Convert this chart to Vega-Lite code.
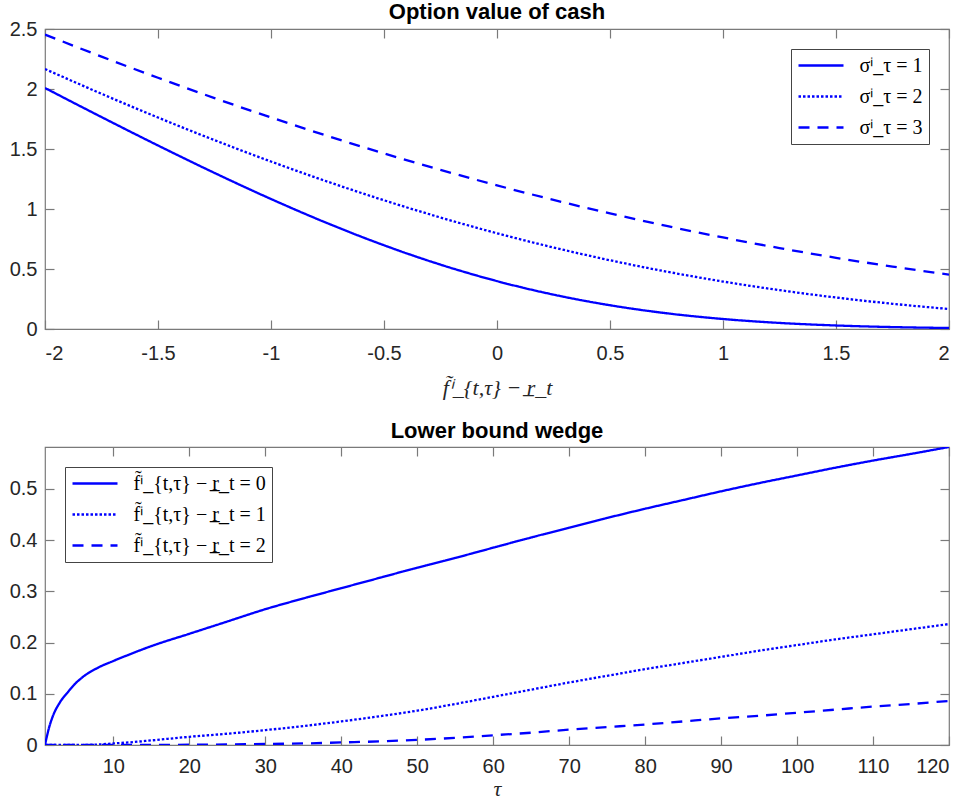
{
  "$schema": "https://vega.github.io/schema/vega-lite/v6.json",
  "padding": {"left": 8, "top": 0, "right": 17, "bottom": 0},
  "background": "white",
  "spacing": 20,
  "datasets": {
    "top": [
      {"x": -2, "v": 2.0084, "s": "σⁱ_τ = 1"}, {"x": -1.75, "v": 1.7661, "s": "σⁱ_τ = 1"}, {"x": -1.5, "v": 1.5293, "s": "σⁱ_τ = 1"}, {"x": -1.25, "v": 1.3006, "s": "σⁱ_τ = 1"},
      {"x": -1, "v": 1.0833, "s": "σⁱ_τ = 1"}, {"x": -0.75, "v": 0.8812, "s": "σⁱ_τ = 1"}, {"x": -0.5, "v": 0.6978, "s": "σⁱ_τ = 1"}, {"x": -0.25, "v": 0.5364, "s": "σⁱ_τ = 1"},
      {"x": 0, "v": 0.3989, "s": "σⁱ_τ = 1"}, {"x": 0.25, "v": 0.2864, "s": "σⁱ_τ = 1"}, {"x": 0.5, "v": 0.1979, "s": "σⁱ_τ = 1"}, {"x": 0.75, "v": 0.1312, "s": "σⁱ_τ = 1"},
      {"x": 1, "v": 0.0833, "s": "σⁱ_τ = 1"}, {"x": 1.25, "v": 0.0506, "s": "σⁱ_τ = 1"}, {"x": 1.5, "v": 0.0293, "s": "σⁱ_τ = 1"}, {"x": 1.75, "v": 0.0161, "s": "σⁱ_τ = 1"},
      {"x": 2, "v": 0.0084, "s": "σⁱ_τ = 1"},
      {"x": -2, "v": 2.1665, "s": "σⁱ_τ = 2"}, {"x": -1.75, "v": 1.9602, "s": "σⁱ_τ = 2"}, {"x": -1.5, "v": 1.7623, "s": "σⁱ_τ = 2"}, {"x": -1.25, "v": 1.5738, "s": "σⁱ_τ = 2"},
      {"x": -1, "v": 1.3956, "s": "σⁱ_τ = 2"}, {"x": -0.75, "v": 1.2283, "s": "σⁱ_τ = 2"}, {"x": -0.5, "v": 1.0727, "s": "σⁱ_τ = 2"}, {"x": -0.25, "v": 0.9291, "s": "σⁱ_τ = 2"},
      {"x": 0, "v": 0.7979, "s": "σⁱ_τ = 2"}, {"x": 0.25, "v": 0.6791, "s": "σⁱ_τ = 2"}, {"x": 0.5, "v": 0.5727, "s": "σⁱ_τ = 2"}, {"x": 0.75, "v": 0.4783, "s": "σⁱ_τ = 2"},
      {"x": 1, "v": 0.3956, "s": "σⁱ_τ = 2"}, {"x": 1.25, "v": 0.3238, "s": "σⁱ_τ = 2"}, {"x": 1.5, "v": 0.2623, "s": "σⁱ_τ = 2"}, {"x": 1.75, "v": 0.2102, "s": "σⁱ_τ = 2"},
      {"x": 2, "v": 0.1666, "s": "σⁱ_τ = 2"},
      {"x": -2, "v": 2.4534, "s": "σⁱ_τ = 3"}, {"x": -1.75, "v": 2.2699, "s": "σⁱ_τ = 3"}, {"x": -1.5, "v": 2.0934, "s": "σⁱ_τ = 3"}, {"x": -1.25, "v": 1.9242, "s": "σⁱ_τ = 3"},
      {"x": -1, "v": 1.7627, "s": "σⁱ_τ = 3"}, {"x": -0.75, "v": 1.609, "s": "σⁱ_τ = 3"}, {"x": -0.5, "v": 1.4634, "s": "σⁱ_τ = 3"}, {"x": -0.25, "v": 1.326, "s": "σⁱ_τ = 3"},
      {"x": 0, "v": 1.1968, "s": "σⁱ_τ = 3"}, {"x": 0.25, "v": 1.076, "s": "σⁱ_τ = 3"}, {"x": 0.5, "v": 0.9634, "s": "σⁱ_τ = 3"}, {"x": 0.75, "v": 0.859, "s": "σⁱ_τ = 3"},
      {"x": 1, "v": 0.7627, "s": "σⁱ_τ = 3"}, {"x": 1.25, "v": 0.6742, "s": "σⁱ_τ = 3"}, {"x": 1.5, "v": 0.5934, "s": "σⁱ_τ = 3"}, {"x": 1.75, "v": 0.5199, "s": "σⁱ_τ = 3"},
      {"x": 2, "v": 0.4534, "s": "σⁱ_τ = 3"}
    ],
    "bottom": [
      {"t": 1, "v": 0, "g": "f̃ⁱ_{t,τ} − r̲_t = 0"}, {"t": 1.5, "v": 0.032, "g": "f̃ⁱ_{t,τ} − r̲_t = 0"}, {"t": 2, "v": 0.055, "g": "f̃ⁱ_{t,τ} − r̲_t = 0"}, {"t": 3, "v": 0.084, "g": "f̃ⁱ_{t,τ} − r̲_t = 0"},
      {"t": 4, "v": 0.103, "g": "f̃ⁱ_{t,τ} − r̲_t = 0"}, {"t": 5, "v": 0.12, "g": "f̃ⁱ_{t,τ} − r̲_t = 0"}, {"t": 6, "v": 0.133, "g": "f̃ⁱ_{t,τ} − r̲_t = 0"}, {"t": 8, "v": 0.151, "g": "f̃ⁱ_{t,τ} − r̲_t = 0"},
      {"t": 10, "v": 0.164, "g": "f̃ⁱ_{t,τ} − r̲_t = 0"}, {"t": 12, "v": 0.176, "g": "f̃ⁱ_{t,τ} − r̲_t = 0"}, {"t": 15, "v": 0.193, "g": "f̃ⁱ_{t,τ} − r̲_t = 0"}, {"t": 20, "v": 0.217, "g": "f̃ⁱ_{t,τ} − r̲_t = 0"},
      {"t": 25, "v": 0.241, "g": "f̃ⁱ_{t,τ} − r̲_t = 0"}, {"t": 30, "v": 0.265, "g": "f̃ⁱ_{t,τ} − r̲_t = 0"}, {"t": 35, "v": 0.286, "g": "f̃ⁱ_{t,τ} − r̲_t = 0"}, {"t": 40, "v": 0.306, "g": "f̃ⁱ_{t,τ} − r̲_t = 0"},
      {"t": 45, "v": 0.326, "g": "f̃ⁱ_{t,τ} − r̲_t = 0"}, {"t": 50, "v": 0.346, "g": "f̃ⁱ_{t,τ} − r̲_t = 0"}, {"t": 55, "v": 0.365, "g": "f̃ⁱ_{t,τ} − r̲_t = 0"}, {"t": 60, "v": 0.385, "g": "f̃ⁱ_{t,τ} − r̲_t = 0"},
      {"t": 65, "v": 0.405, "g": "f̃ⁱ_{t,τ} − r̲_t = 0"}, {"t": 70, "v": 0.424, "g": "f̃ⁱ_{t,τ} − r̲_t = 0"}, {"t": 75, "v": 0.443, "g": "f̃ⁱ_{t,τ} − r̲_t = 0"}, {"t": 80, "v": 0.461, "g": "f̃ⁱ_{t,τ} − r̲_t = 0"},
      {"t": 85, "v": 0.478, "g": "f̃ⁱ_{t,τ} − r̲_t = 0"}, {"t": 90, "v": 0.495, "g": "f̃ⁱ_{t,τ} − r̲_t = 0"}, {"t": 95, "v": 0.511, "g": "f̃ⁱ_{t,τ} − r̲_t = 0"}, {"t": 100, "v": 0.526, "g": "f̃ⁱ_{t,τ} − r̲_t = 0"},
      {"t": 105, "v": 0.541, "g": "f̃ⁱ_{t,τ} − r̲_t = 0"}, {"t": 110, "v": 0.555, "g": "f̃ⁱ_{t,τ} − r̲_t = 0"}, {"t": 115, "v": 0.568, "g": "f̃ⁱ_{t,τ} − r̲_t = 0"}, {"t": 120, "v": 0.5815, "g": "f̃ⁱ_{t,τ} − r̲_t = 0"},
      {"t": 1, "v": 0, "g": "f̃ⁱ_{t,τ} − r̲_t = 1"}, {"t": 5, "v": 0, "g": "f̃ⁱ_{t,τ} − r̲_t = 1"}, {"t": 8, "v": 0.001, "g": "f̃ⁱ_{t,τ} − r̲_t = 1"}, {"t": 10, "v": 0.003, "g": "f̃ⁱ_{t,τ} − r̲_t = 1"},
      {"t": 12, "v": 0.005, "g": "f̃ⁱ_{t,τ} − r̲_t = 1"}, {"t": 15, "v": 0.009, "g": "f̃ⁱ_{t,τ} − r̲_t = 1"}, {"t": 20, "v": 0.016, "g": "f̃ⁱ_{t,τ} − r̲_t = 1"}, {"t": 25, "v": 0.022, "g": "f̃ⁱ_{t,τ} − r̲_t = 1"},
      {"t": 30, "v": 0.029, "g": "f̃ⁱ_{t,τ} − r̲_t = 1"}, {"t": 35, "v": 0.037, "g": "f̃ⁱ_{t,τ} − r̲_t = 1"}, {"t": 40, "v": 0.046, "g": "f̃ⁱ_{t,τ} − r̲_t = 1"}, {"t": 45, "v": 0.056, "g": "f̃ⁱ_{t,τ} − r̲_t = 1"},
      {"t": 50, "v": 0.067, "g": "f̃ⁱ_{t,τ} − r̲_t = 1"}, {"t": 55, "v": 0.08, "g": "f̃ⁱ_{t,τ} − r̲_t = 1"}, {"t": 60, "v": 0.094, "g": "f̃ⁱ_{t,τ} − r̲_t = 1"}, {"t": 65, "v": 0.108, "g": "f̃ⁱ_{t,τ} − r̲_t = 1"},
      {"t": 70, "v": 0.122, "g": "f̃ⁱ_{t,τ} − r̲_t = 1"}, {"t": 75, "v": 0.135, "g": "f̃ⁱ_{t,τ} − r̲_t = 1"}, {"t": 80, "v": 0.148, "g": "f̃ⁱ_{t,τ} − r̲_t = 1"}, {"t": 85, "v": 0.16, "g": "f̃ⁱ_{t,τ} − r̲_t = 1"},
      {"t": 90, "v": 0.172, "g": "f̃ⁱ_{t,τ} − r̲_t = 1"}, {"t": 95, "v": 0.184, "g": "f̃ⁱ_{t,τ} − r̲_t = 1"}, {"t": 100, "v": 0.195, "g": "f̃ⁱ_{t,τ} − r̲_t = 1"}, {"t": 105, "v": 0.206, "g": "f̃ⁱ_{t,τ} − r̲_t = 1"},
      {"t": 110, "v": 0.216, "g": "f̃ⁱ_{t,τ} − r̲_t = 1"}, {"t": 115, "v": 0.226, "g": "f̃ⁱ_{t,τ} − r̲_t = 1"}, {"t": 120, "v": 0.236, "g": "f̃ⁱ_{t,τ} − r̲_t = 1"},
      {"t": 1, "v": 0, "g": "f̃ⁱ_{t,τ} − r̲_t = 2"}, {"t": 10, "v": 0, "g": "f̃ⁱ_{t,τ} − r̲_t = 2"}, {"t": 20, "v": 0.0005, "g": "f̃ⁱ_{t,τ} − r̲_t = 2"}, {"t": 30, "v": 0.002, "g": "f̃ⁱ_{t,τ} − r̲_t = 2"},
      {"t": 35, "v": 0.003, "g": "f̃ⁱ_{t,τ} − r̲_t = 2"}, {"t": 40, "v": 0.005, "g": "f̃ⁱ_{t,τ} − r̲_t = 2"}, {"t": 45, "v": 0.007, "g": "f̃ⁱ_{t,τ} − r̲_t = 2"}, {"t": 50, "v": 0.01, "g": "f̃ⁱ_{t,τ} − r̲_t = 2"},
      {"t": 55, "v": 0.014, "g": "f̃ⁱ_{t,τ} − r̲_t = 2"}, {"t": 60, "v": 0.019, "g": "f̃ⁱ_{t,τ} − r̲_t = 2"}, {"t": 65, "v": 0.024, "g": "f̃ⁱ_{t,τ} − r̲_t = 2"}, {"t": 70, "v": 0.03, "g": "f̃ⁱ_{t,τ} − r̲_t = 2"},
      {"t": 75, "v": 0.035, "g": "f̃ⁱ_{t,τ} − r̲_t = 2"}, {"t": 80, "v": 0.04, "g": "f̃ⁱ_{t,τ} − r̲_t = 2"}, {"t": 85, "v": 0.046, "g": "f̃ⁱ_{t,τ} − r̲_t = 2"}, {"t": 90, "v": 0.052, "g": "f̃ⁱ_{t,τ} − r̲_t = 2"},
      {"t": 95, "v": 0.057, "g": "f̃ⁱ_{t,τ} − r̲_t = 2"}, {"t": 100, "v": 0.063, "g": "f̃ⁱ_{t,τ} − r̲_t = 2"}, {"t": 105, "v": 0.069, "g": "f̃ⁱ_{t,τ} − r̲_t = 2"}, {"t": 110, "v": 0.075, "g": "f̃ⁱ_{t,τ} − r̲_t = 2"},
      {"t": 115, "v": 0.08, "g": "f̃ⁱ_{t,τ} − r̲_t = 2"}, {"t": 120, "v": 0.086, "g": "f̃ⁱ_{t,τ} − r̲_t = 2"}
    ]
  },
  "vconcat": [
    {
      "width": 904,
      "height": 300,
      "title": {"text": "Option value of cash", "offset": -5},
      "data": {"name": "top"},
      "layer": [
        {
          "mark": {"type": "line", "color": "#0000ff", "strokeWidth": 2.3, "interpolate": "monotone", "clip": true},
          "encoding": {
            "x": {"field": "x", "type": "quantitative", "title": "f̃ⁱ_{t,τ} − r̲_t",
              "scale": {"domain": [-2, 2], "nice": false},
              "axis": {"orient": "bottom", "values": [-2, -1.5, -1, -0.5, 0, 0.5, 1, 1.5, 2], "labelExpr": "'' + datum.value", "labelPadding": 23, "titlePadding": 14}},
            "y": {"field": "v", "type": "quantitative", "title": null,
              "scale": {"domain": [0, 2.5], "nice": false},
              "axis": {"orient": "left", "values": [0, 0.5, 1, 1.5, 2, 2.5], "labelExpr": "'' + datum.value", "labelPadding": 17}},
            "strokeDash": {"field": "s", "type": "nominal",
              "scale": {"domain": ["σⁱ_τ = 1", "σⁱ_τ = 2", "σⁱ_τ = 3"], "range": [[1, 0], [2.5, 2], [11, 8]]},
              "legend": {"title": null, "orient": "top-right", "offset": 20}}
          }
        },
        {
          "mark": {"type": "line", "strokeOpacity": 0},
          "encoding": {
            "x": {"field": "x", "type": "quantitative", "axis": {"orient": "top", "values": [-2, -1.5, -1, -0.5, 0, 0.5, 1, 1.5, 2], "labels": false, "title": null}},
            "y": {"field": "v", "type": "quantitative", "axis": {"orient": "right", "values": [0, 0.5, 1, 1.5, 2, 2.5], "labels": false, "title": null}},
            "detail": {"field": "s"}
          }
        }
      ],
      "resolve": {"axis": {"x": "independent", "y": "independent"}}
    },
    {
      "width": 904,
      "height": 298,
      "title": {"text": "Lower bound wedge", "offset": 3},
      "data": {"name": "bottom"},
      "layer": [
        {
          "mark": {"type": "line", "color": "#0000ff", "strokeWidth": 2.3, "interpolate": "monotone", "clip": true},
          "encoding": {
            "x": {"field": "t", "type": "quantitative", "title": "τ",
              "scale": {"domain": [1, 120], "nice": false},
              "axis": {"orient": "bottom", "values": [10, 20, 30, 40, 50, 60, 70, 80, 90, 100, 110, 120], "labelExpr": "'' + datum.value", "labelPadding": 20, "titlePadding": 2}},
            "y": {"field": "v", "type": "quantitative", "title": null,
              "scale": {"domain": [0, 0.5815], "nice": false},
              "axis": {"orient": "left", "values": [0, 0.1, 0.2, 0.3, 0.4, 0.5], "labelExpr": "'' + datum.value", "labelPadding": 17}},
            "strokeDash": {"field": "g", "type": "nominal",
              "scale": {"domain": ["f̃ⁱ_{t,τ} − r̲_t = 0", "f̃ⁱ_{t,τ} − r̲_t = 1", "f̃ⁱ_{t,τ} − r̲_t = 2"], "range": [[1, 0], [2.5, 2], [11, 8]]},
              "legend": {"title": null, "orient": "top-left", "offset": 20}}
          }
        },
        {
          "mark": {"type": "line", "strokeOpacity": 0},
          "encoding": {
            "x": {"field": "t", "type": "quantitative", "axis": {"orient": "top", "values": [10, 20, 30, 40, 50, 60, 70, 80, 90, 100, 110, 120], "labels": false, "title": null}},
            "y": {"field": "v", "type": "quantitative", "axis": {"orient": "right", "values": [0, 0.1, 0.2, 0.3, 0.4, 0.5], "labels": false, "title": null}},
            "detail": {"field": "g"}
          }
        }
      ],
      "resolve": {"axis": {"x": "independent", "y": "independent"}}
    }
  ],
  "resolve": {"scale": {"strokeDash": "independent"}, "legend": {"strokeDash": "independent"}},
  "config": {
    "font": "Liberation Sans",
    "view": {"stroke": "#7a7a7a", "strokeWidth": 1.2},
    "title": {"font": "Liberation Sans", "fontSize": 22, "fontWeight": "bold", "color": "#000000", "anchor": "middle"},
    "axis": {
      "domain": false, "grid": false,
      "tickColor": "#7a7a7a", "tickSize": -9, "tickWidth": 1.2,
      "labelFont": "Liberation Sans", "labelFontSize": 20, "labelColor": "#262626",
      "titleFont": "Liberation Serif", "titleFontStyle": "italic", "titleFontWeight": "normal", "titleFontSize": 22, "titleColor": "#262626"
    },
    "legend": {
      "strokeColor": "#444444", "fillColor": "white", "padding": 6,
      "labelFont": "Liberation Serif", "labelFontSize": 20, "labelColor": "#000000", "labelLimit": 400,
      "symbolType": "M-2.5,0H2.5", "symbolSize": 324, "symbolStrokeWidth": 2.3, "symbolStrokeColor": "#0000ff",
      "symbolOffset": 13.5, "labelOffset": 28, "rowPadding": 10
    }
  }
}
